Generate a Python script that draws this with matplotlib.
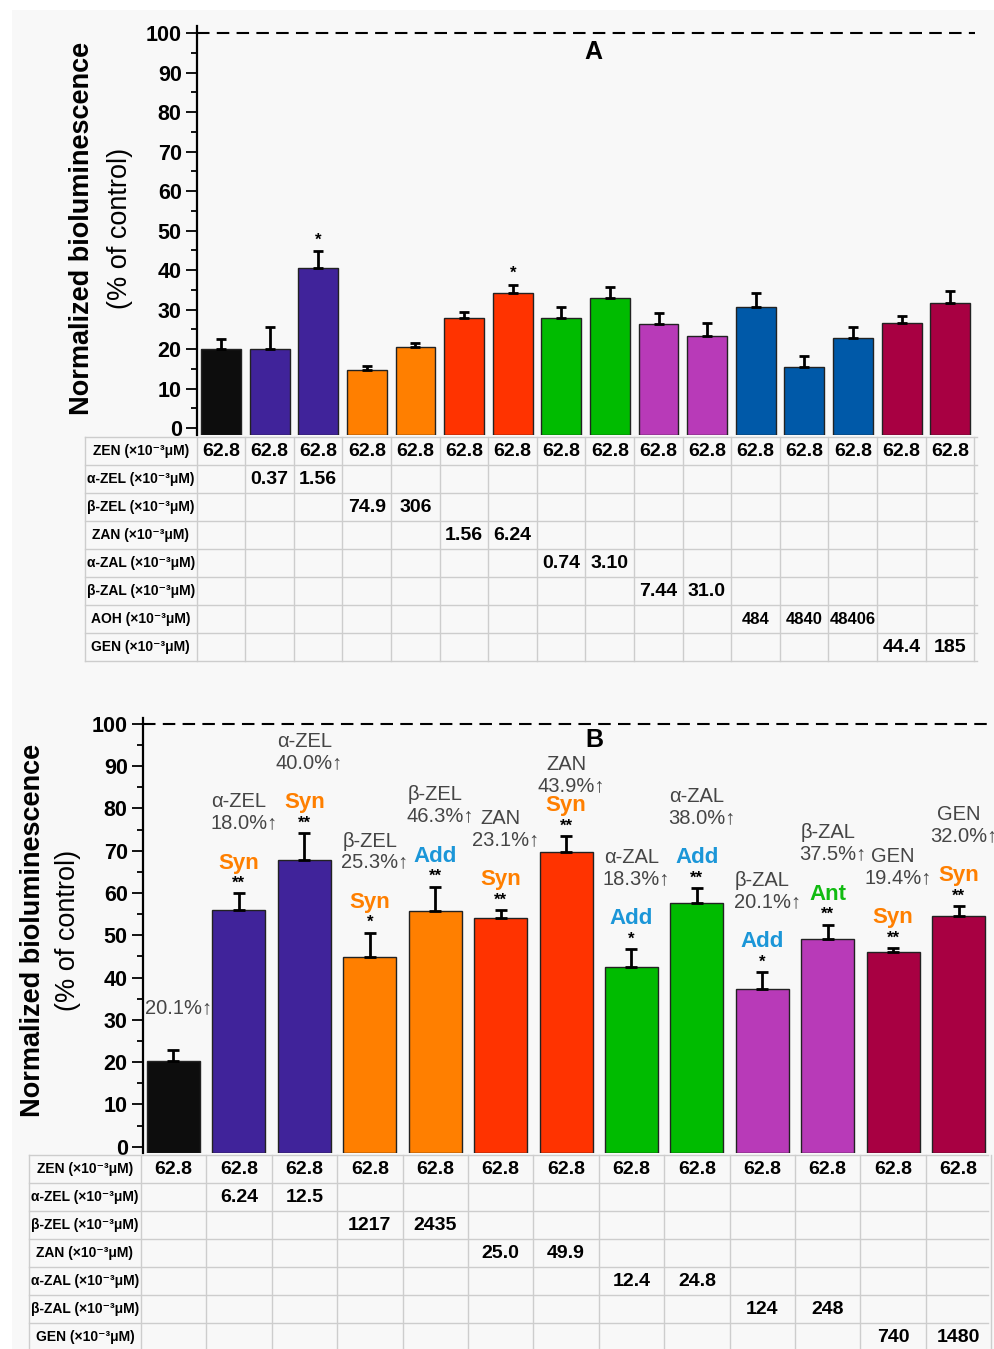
import numpy as np
import matplotlib
matplotlib.use("Agg")
import matplotlib.pyplot as plt
from matplotlib.patches import Rectangle

plt.rcParams['font.family'] = ['Liberation Sans', 'DejaVu Sans']

W, H = 995, 1349

# ---- panel A: ZEN + single metabolite, low doses ----
A_MEAN = [20.0, 20.1, 40.5, 14.8, 20.5, 27.9, 34.3, 27.9, 33.0, 26.4, 23.4, 30.7, 15.5, 22.9, 26.6, 31.7]
A_ERR = [2.6, 5.5, 4.2, 1.0, 1.0, 1.5, 1.9, 2.8, 2.7, 2.8, 3.3, 3.5, 2.7, 2.8, 1.8, 3.0]
A_SIG = ["", "", "*", "", "", "", "*", "", "", "", "", "", "", "", "", ""]
A_COLORS = ["#0d0d0d", "#40239a", "#40239a", "#ff7f00", "#ff7f00", "#ff3300", "#ff3300",
            "#00bb00", "#00bb00", "#b83ab8", "#b83ab8", "#0059a8", "#0059a8", "#0059a8",
            "#a80042", "#a80042"]
A_ROWS = ["ZEN", "α-ZEL", "β-ZEL", "ZAN", "α-ZAL", "β-ZAL", "AOH", "GEN"]
A_ZEN = ["62.8"] * 16
A_aZEL = ["", "0.37", "1.56"] + [""] * 13
A_bZEL = [""] * 3 + ["74.9", "306"] + [""] * 11
A_ZAN = [""] * 5 + ["1.56", "6.24"] + [""] * 9
A_aZAL = [""] * 7 + ["0.74", "3.10"] + [""] * 7
A_bZAL = [""] * 9 + ["7.44", "31.0"] + [""] * 5
A_AOH = [""] * 11 + ["484", "4840", "48406"] + [""] * 2
A_GEN = [""] * 14 + ["44.4", "185"]
A_DOSES = [A_ZEN, A_aZEL, A_bZEL, A_ZAN, A_aZAL, A_bZAL, A_AOH, A_GEN]

# ---- panel B: ZEN + single metabolite, high doses ----
B_MEAN = [20.3, 56.1, 67.8, 44.8, 55.8, 54.0, 69.8, 42.5, 57.6, 37.4, 49.2, 46.1, 54.6]
B_ERR = [2.6, 3.8, 6.3, 5.8, 5.7, 1.9, 3.7, 4.3, 3.5, 3.9, 3.3, 0.8, 2.3]
B_SIG = ["", "**", "**", "*", "**", "**", "**", "*", "**", "*", "**", "**", "**"]
B_EFFECT = ["", "Syn", "Syn", "Syn", "Add", "Syn", "Syn", "Add", "Add", "Add", "Ant", "Syn", "Syn"]
B_PARTNER = ["", "α-ZEL", "α-ZEL", "β-ZEL", "β-ZEL", "ZAN", "ZAN", "α-ZAL", "α-ZAL",
             "β-ZAL", "β-ZAL", "GEN", "GEN"]
B_INCREASE = [20.1, 18.0, 40.0, 25.3, 46.3, 23.1, 43.9, 18.3, 38.0, 20.1, 37.5, 19.4, 32.0]
B_COLORS = ["#0d0d0d", "#40239a", "#40239a", "#ff7f00", "#ff7f00", "#ff3300", "#ff3300",
            "#00bb00", "#00bb00", "#b83ab8", "#b83ab8", "#a80042", "#a80042"]
B_ROWS = ["ZEN", "α-ZEL", "β-ZEL", "ZAN", "α-ZAL", "β-ZAL", "GEN"]
B_ZEN = ["62.8"] * 13
B_aZEL = ["", "6.24", "12.5"] + [""] * 10
B_bZEL = [""] * 3 + ["1217", "2435"] + [""] * 8
B_ZAN = [""] * 5 + ["25.0", "49.9"] + [""] * 6
B_aZAL = [""] * 7 + ["12.4", "24.8"] + [""] * 4
B_bZAL = [""] * 9 + ["124", "248"] + [""] * 2
B_GEN = [""] * 11 + ["740", "1480"]
B_DOSES = [B_ZEN, B_aZEL, B_bZEL, B_ZAN, B_aZAL, B_bZAL, B_GEN]

EFFECT_COLOR = {"Syn": "#ff7f00", "Add": "#1b96d8", "Ant": "#11bb11"}
UNIT = " (×10⁻³μM)"


def px_axes(fig, left, top, right, bottom):
    return fig.add_axes([left / W, 1 - bottom / H, (right - left) / W, (bottom - top) / H])


def bar_panel(ax, mean, err, colors, ylim, xlim, width, cap):
    x = np.arange(len(mean))
    mean = np.asarray(mean)
    y0 = ylim[0]
    ax.bar(x, mean - y0, bottom=y0, width=width, color=colors, edgecolor="#222222", lw=1.0, zorder=2)
    ax.errorbar(x, mean, yerr=[np.zeros_like(mean), err], fmt="none", ecolor="black",
                elinewidth=2, capsize=cap, capthick=2, zorder=3)
    ax.axhline(100, color="black", lw=1.5, ls=(0, (6, 3.5)), zorder=1)
    ax.set_xlim(*xlim); ax.set_ylim(*ylim)
    ax.set_facecolor("none")
    for s in ["top", "right", "bottom"]:
        ax.spines[s].set_visible(False)
    ax.spines["left"].set_linewidth(1.6)
    ax.set_xticks([])
    ax.set_yticks(np.arange(0, 101, 10))
    ax.set_yticks(np.arange(5, 100, 10), minor=True)
    ax.tick_params(axis="y", which="major", direction="out", length=8, width=1.3, labelsize=15.5, pad=3)
    ax.tick_params(axis="y", which="minor", direction="out", length=4.5, width=1.3)
    for t in ax.get_yticklabels():
        t.set_fontweight("bold")
    return x


def dose_table(ax, rows, doses, xlim, value_size):
    n = len(doses[0])
    ax.set_xlim(*xlim); ax.set_ylim(len(rows), 0)
    ax.axis("off")
    grid = "#cdcdcd"
    for r in range(len(rows) + 1):
        ax.plot(xlim, [r, r], color=grid, lw=1.0, clip_on=False)
    for c in [xlim[0], -0.5] + [i + 0.5 for i in range(n)]:
        ax.plot([c, c], [0, len(rows)], color=grid, lw=1.0, clip_on=False)
    lab_x = (xlim[0] - 0.5) / 2
    for r, (name, vals) in enumerate(zip(rows, doses)):
        ax.text(lab_x, r + 0.5, name + UNIT, ha="center", va="center", fontsize=10, fontweight="bold")
        for j, v in enumerate(vals):
            if v:
                fs = value_size - 2 if name == "AOH" else value_size
                ax.text(j, r + 0.52, v, ha="center", va="center", fontsize=fs, fontweight="bold")


fig = plt.figure(figsize=(W / 100, H / 100), dpi=100)
fig.patch.set_facecolor("white")
fig.patches.append(Rectangle((12 / W, 0), 1 - 12 / W, 1 - 10 / H, transform=fig.transFigure,
                             facecolor="#f8f8f8", edgecolor="none", zorder=-10))

# panel A
axA = px_axes(fig, 197, 26, 975, 435)
xA = bar_panel(axA, A_MEAN, A_ERR, A_COLORS, (-1.77, 101.8), (-0.494, 15.51), 0.82, 3.6)
for i, s in enumerate(A_SIG):
    if s:
        axA.text(xA[i], A_MEAN[i] + A_ERR[i] + 1.0, s, ha="center", va="bottom", fontsize=12, fontweight="bold")
axA.text(7.65, 95.2, "A", ha="center", va="center", fontsize=18, fontweight="bold")
tA = px_axes(fig, 85, 437, 977, 661)
dose_table(tA, A_ROWS, A_DOSES, (-2.798, 15.556), 14)
fig.text(82 / W, 1 - 228 / H, "Normalized bioluminescence", rotation=90, ha="center", va="center",
         fontsize=19.5, fontweight="bold")
fig.text(120 / W, 1 - 228 / H, "(% of control)", rotation=90, ha="center", va="center", fontsize=19.5)

# panel B
axB = px_axes(fig, 143, 718, 988, 1153)
xB = bar_panel(axB, B_MEAN, B_ERR, B_COLORS, (-1.49, 101.4), (-0.466, 12.45), 0.81, 4.6)
gray = "#454545"
for i in range(len(B_MEAN)):
    y = B_MEAN[i] + B_ERR[i]
    if B_SIG[i]:
        axB.text(xB[i], y + 0.6, B_SIG[i], ha="center", va="bottom", fontsize=12, fontweight="bold")
        y += 2.5
    if B_EFFECT[i]:
        y += 4.7
        axB.text(xB[i], y, B_EFFECT[i], ha="center", va="center", fontsize=16, fontweight="bold",
                 color=EFFECT_COLOR[B_EFFECT[i]])
        y += 4.7 if i == 6 else 9.5
    else:
        y += 10.0
    axB.text(xB[i] + 0.08, y, f"{B_INCREASE[i]:.1f}%↑", ha="center", va="center", fontsize=14.5, color=gray)
    if B_PARTNER[i]:
        axB.text(xB[i], y + 5.0, B_PARTNER[i], ha="center", va="center", fontsize=14.5, color=gray)
axB.text(6.43, 96.2, "B", ha="center", va="center", fontsize=18, fontweight="bold")
tB = px_axes(fig, 29, 1155, 988, 1351)
dose_table(tB, B_ROWS, B_DOSES, (-2.21, 12.45), 14)
fig.text(33 / W, 1 - 930 / H, "Normalized bioluminescence", rotation=90, ha="center", va="center",
         fontsize=19.5, fontweight="bold")
fig.text(68 / W, 1 - 930 / H, "(% of control)", rotation=90, ha="center", va="center", fontsize=19.5)

fig.savefig("out.png", dpi=100, facecolor=fig.get_facecolor())
